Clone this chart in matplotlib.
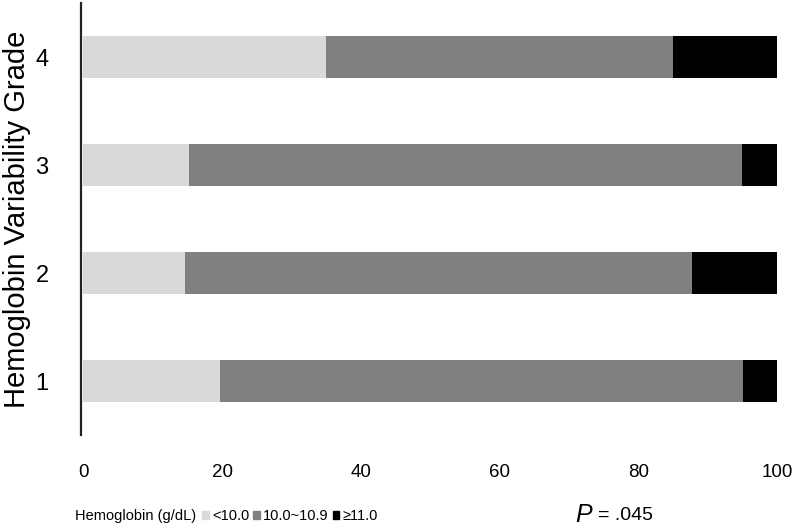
import matplotlib
matplotlib.use('Agg')
import matplotlib.pyplot as plt
import matplotlib.patches as mplpatches
import numpy as np

plt.rcParams['font.family'] = ['Liberation Sans', 'DejaVu Sans']

# data (percent of patients)
grades = [1, 2, 3, 4]
low = [19.7, 14.7, 15.2, 35.0]        # <10.0
mid = [75.4, 73.0, 79.7, 50.0]        # 10.0~10.9
high = [4.9, 12.3, 5.1, 15.0]         # >=11.0
groupLabels = ['<10.0', '10.0~10.9', '\u226511.0']
colors = ['#d9d9d9', '#808080', '#000000']

figureWidth = 8
figureHeight = 5.31
fig = plt.figure(figsize=(figureWidth, figureHeight), dpi=100)

#             left,bottom,width,height
panel = plt.axes([80.5/800, 1-435/531, (777-80.5)/800, 432/531])

lefts = np.zeros(len(grades))
for values, color in zip([low, mid, high], colors):
    panel.barh(grades, values, left=lefts, height=0.39, color=color, linewidth=0)
    lefts = lefts + np.array(values)

panel.set_xlim(-0.4, 100)
panel.set_ylim(0.5, 4.5)
panel.set_xticks([0, 20, 40, 60, 80, 100])
panel.set_yticks(grades)
for side in ['top', 'right', 'bottom']:
    panel.spines[side].set_visible(False)
panel.spines['left'].set_linewidth(1.6)
panel.spines['left'].set_color('#222222')
panel.tick_params(axis='x', length=0, pad=21, labelsize=13.5)
panel.tick_params(axis='y', length=0, pad=23, labelsize=17)
panel.set_ylabel('Hemoglobin Variability Grade', fontsize=21)
panel.yaxis.set_label_coords((31 - 80.5)/696.5, 0.5)

# legend row under the axis
fig.text(75/800, 1-516/531, 'Hemoglobin (g/dL)', fontsize=10.5,
         ha='left', va='center')
handles = [mplpatches.Patch(color=c) for c in colors]
fig.legend(handles, groupLabels, loc='center left', bbox_to_anchor=(202/800, 1-516/531),
           ncol=3, frameon=False, handlelength=0.45, handleheight=0.45,
           handletextpad=0.25, columnspacing=0.25, borderpad=0, borderaxespad=0,
           prop={'size': 10.5})
fig.text(575/800, 1-515/531, 'P', fontsize=18, style='italic',
         ha='left', va='center')
fig.text(598/800, 1-515/531, '= .045', fontsize=14,
         ha='left', va='center')

plt.savefig('out.png', dpi=100)
